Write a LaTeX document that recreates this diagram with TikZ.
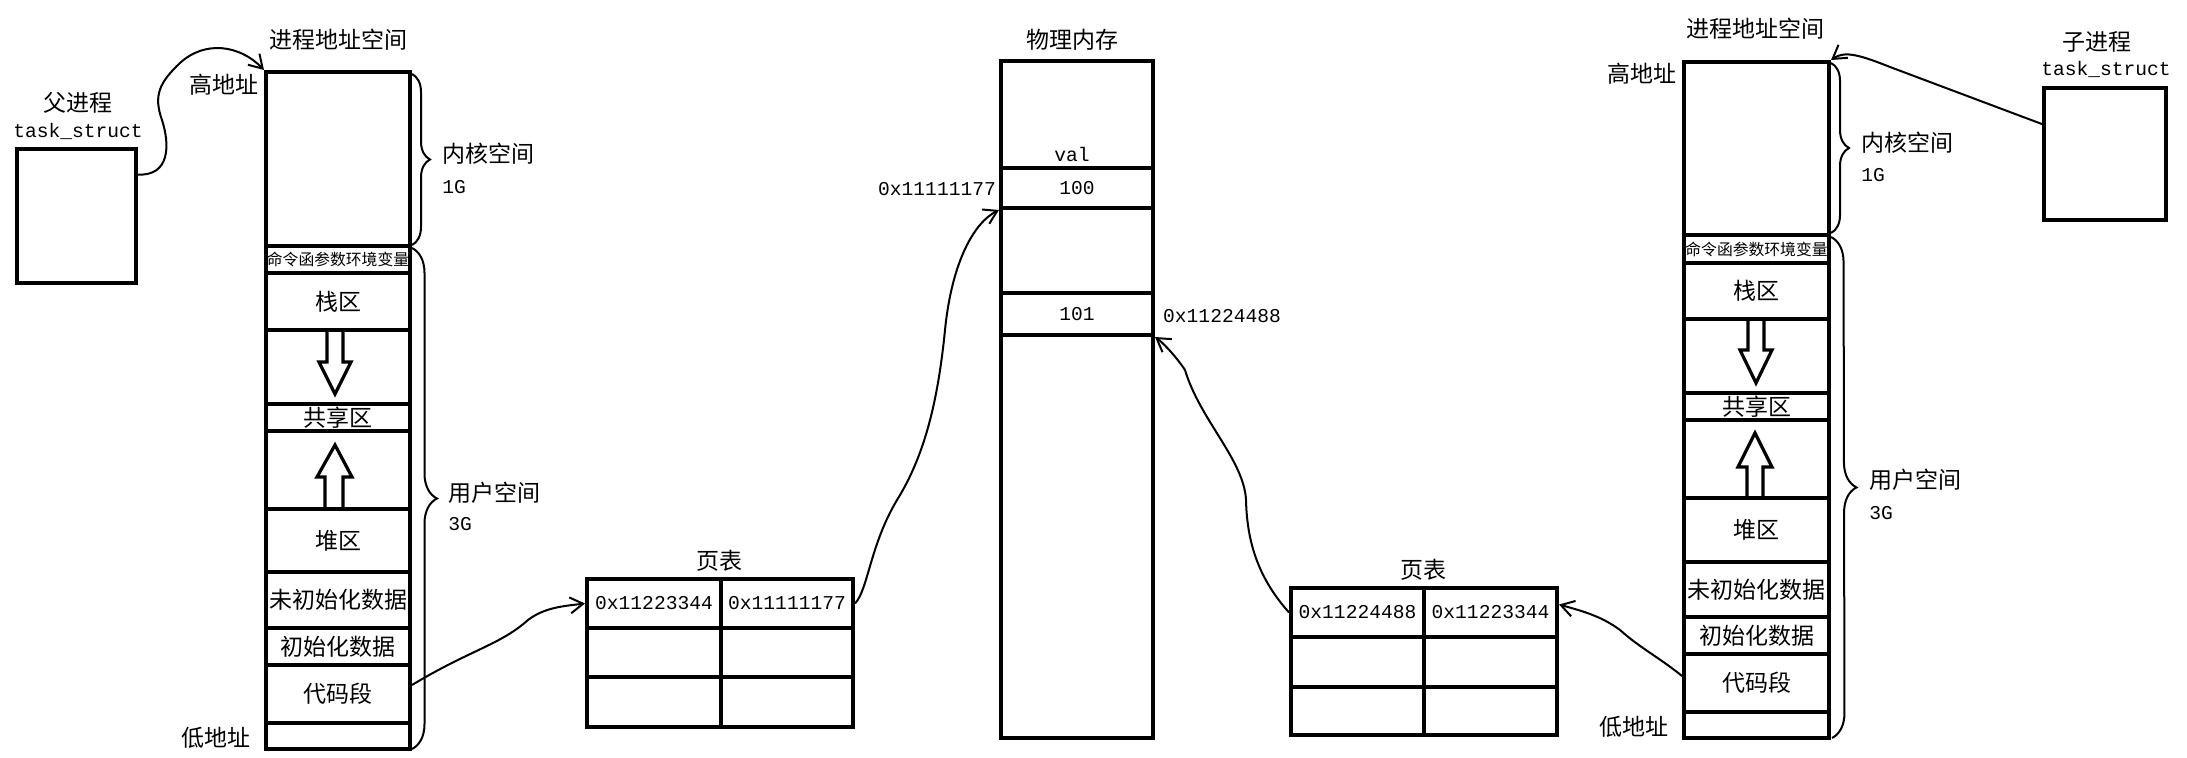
\documentclass[tikz,border=0pt]{standalone}
\usepackage{fontspec}
\newfontfamily\cjk{Noto Sans CJK SC}
\newfontfamily\lat{Liberation Mono}
\newcommand\enf{\lat\fontsize{9.8pt}{11pt}\selectfont}
\usetikzlibrary{fit,calc,decorations.pathreplacing,arrows.meta}
\tikzset{
 cell/.style={draw, line width=2pt, inner sep=0pt},
 zh/.style={font=\cjk\fontsize{11.5pt}{13pt}\selectfont, inner sep=0pt},
 zhs/.style={font=\cjk\fontsize{7.9pt}{9pt}\selectfont, inner sep=0pt},
 en/.style={font=\enf, inner sep=0pt},
 wire/.style={line width=1pt, -{Straight Barb[length=6.5pt,width=8pt]}},
 hollow/.style={line width=1.6pt, line join=miter},
 brc/.style={line width=1pt, decorate, decoration={brace, amplitude=#1}},
}
\newcommand\cellbox[6]{\node[cell, fit={(#2,#3)(#4,#5)}] (#1) {}; \node[zh] (#1-t) at (#1.center) {#6};}
\begin{document}
\begin{tikzpicture}[x=0.5pt,y=-0.5pt]
\useasboundingbox (0,0) rectangle (2187,758);

% parent task_struct
\cellbox{ltask}{17}{149}{136}{283}{}
\node[zh] (ltaskname) at (78,103) {父进程};
\node[en] (ltasklbl) at (78,131) {task\_struct};

% left process address space
\node[zh] (ltitle) at (338,40) {进程地址空间};
\node[zh] (lhigh) at (224,85) {高地址};
\node[zh] (llowlbl) at (216,738) {低地址};
\cellbox{lkern}{266}{72}{410}{246}{}
\node[cell, fit={(266,246)(410,273)}] (lenv) {};
\node[zhs] (lenv-t) at (lenv.center) {命令函参数环境变量};
\cellbox{lstack}{266}{273}{410}{330}{栈区}
\cellbox{lfreea}{266}{330}{410}{404}{}
\cellbox{lshare}{266}{404}{410}{431}{共享区}
\cellbox{lfreeb}{266}{431}{410}{509}{}
\cellbox{lheap}{266}{509}{410}{572}{堆区}
\cellbox{lbss}{266}{572}{410}{628}{未初始化数据}
\cellbox{ldata}{266}{628}{410}{665}{初始化数据}
\cellbox{lcode}{266}{665}{410}{723}{代码段}
\cellbox{llow}{266}{723}{410}{749}{}
\draw[hollow] (327,330) -- (327,362) -- (319,362) -- (335,394) -- (351,362) -- (343,362) -- (343,330);
\draw[hollow] (325,509) -- (325,477) -- (317,477) -- (335,445) -- (352,477) -- (343,477) -- (343,509);
\draw[brc=9pt] (412,74) -- (412,245);
\draw[brc=12.5pt] (412,248) -- (412,749);
\node[zh, anchor=west] (lkname) at (442,154) {内核空间};
\node[en, anchor=west] (lkg) at (442,187) {1G};
\node[zh, anchor=west] (luname) at (448,493) {用户空间};
\node[en, anchor=west] (lug) at (448,524) {3G};

% page table 1
\node[zh] (pttitlea) at (719,561) {页表};
\cellbox{paa}{587}{579}{721}{628}{\enf 0x11223344}
\cellbox{pab}{721}{579}{853}{628}{\enf 0x11111177}
\cellbox{pac}{587}{628}{721}{677}{}
\cellbox{pad}{721}{628}{853}{677}{}
\cellbox{pae}{587}{677}{721}{727}{}
\cellbox{paf}{721}{677}{853}{727}{}

% physical memory
\node[zh] (pmtitle) at (1072,40) {物理内存};
\cellbox{pmtop}{1001}{61}{1153}{168}{}
\node[en] (pmval) at (1072,154) {val};
\cellbox{pmhund}{1001}{168}{1153}{208}{\enf 100}
\cellbox{pmmid}{1001}{208}{1153}{293}{}
\cellbox{pmhundone}{1001}{293}{1153}{335}{\enf 101}
\cellbox{pmbot}{1001}{335}{1153}{738}{}
\node[en] (addra) at (937,189) {0x11111177};
\node[en] (addrb) at (1222,316) {0x11224488};

% page table 2
\node[zh] (pttitleb) at (1423,570) {页表};
\cellbox{pba}{1291}{588}{1424}{637}{\enf 0x11224488}
\cellbox{pbb}{1424}{588}{1557}{637}{\enf 0x11223344}
\cellbox{pbc}{1291}{637}{1424}{687}{}
\cellbox{pbd}{1424}{637}{1557}{687}{}
\cellbox{pbe}{1291}{687}{1424}{735}{}
\cellbox{pbf}{1424}{687}{1557}{735}{}

% right process address space
\node[zh] (rtitle) at (1755,29) {进程地址空间};
\node[zh] (rhigh) at (1642,74) {高地址};
\node[zh] (rlowlbl) at (1634,727) {低地址};
\cellbox{rkern}{1684}{62}{1829}{235}{}
\node[cell, fit={(1684,235)(1829,263)}] (renv) {};
\node[zhs] (renv-t) at (renv.center) {命令函参数环境变量};
\cellbox{rstack}{1684}{263}{1829}{319}{栈区}
\cellbox{rfreea}{1684}{319}{1829}{393}{}
\cellbox{rshare}{1684}{393}{1829}{420}{共享区}
\cellbox{rfreeb}{1684}{420}{1829}{498}{}
\cellbox{rheap}{1684}{498}{1829}{562}{堆区}
\cellbox{rbss}{1684}{562}{1829}{617}{未初始化数据}
\cellbox{rdata}{1684}{617}{1829}{654}{初始化数据}
\cellbox{rcode}{1684}{654}{1829}{712}{代码段}
\cellbox{rlow}{1684}{712}{1829}{738}{}
\draw[hollow] (1748,319) -- (1748,350) -- (1740,350) -- (1756,383) -- (1772,350) -- (1764,350) -- (1764,319);
\draw[hollow] (1747,498) -- (1747,467) -- (1738,467) -- (1755,433) -- (1772,467) -- (1763,467) -- (1763,498);
\draw[brc=9pt] (1831,63) -- (1831,233);
\draw[brc=12.5pt] (1831,237) -- (1832,738);
\node[zh, anchor=west] (rkname) at (1861,143) {内核空间};
\node[en, anchor=west] (rkg) at (1861,175) {1G};
\node[zh, anchor=west] (runame) at (1869,480) {用户空间};
\node[en, anchor=west] (rug) at (1869,513) {3G};

% child task_struct
\cellbox{rtask}{2044}{88}{2166}{220}{}
\node[zh] (rtaskname) at (2097,42) {子进程};
\node[en] (rtasklbl) at (2106,69) {task\_struct};

% connectors
\draw[wire] ($(ltask.north east)!0.2!(ltask.south east)$) .. controls (170,176) and (170,145) .. (162,120) .. controls (153,95) and (160,82) .. (180,63) .. controls (205,40) and (240,45) .. (lkern.north west);
\draw[wire] ($(lcode.east)+(0,-9)$) .. controls (470,650) and (500,645) .. (528,620) .. controls (545,607) and (565,606) .. (paa.west);
\draw[wire] (pab.east) .. controls (868,590) and (870,545) .. (897,500) .. controls (925,455) and (938,400) .. (945,330) .. controls (952,260) and (975,222) .. (pmhund.south west);
\draw[wire] (pba.west) .. controls (1260,580) and (1247,545) .. (1246,500) .. controls (1244,460) and (1200,420) .. (1185,370) .. controls (1175,355) and (1162,342) .. (pmhundone.south east);
\draw[wire] ($(rcode.west)+(0,-7)$) .. controls (1660,658) and (1640,648) .. (1620,630) .. controls (1600,615) and (1578,610) .. ($(pbb.east)+(0,-8)$);
\draw[wire] ($(rtask.north west)!0.28!(rtask.south west)$) -- (1890,67) .. controls (1862,56) and (1845,50) .. (rkern.north east);
\end{tikzpicture}
\end{document}
